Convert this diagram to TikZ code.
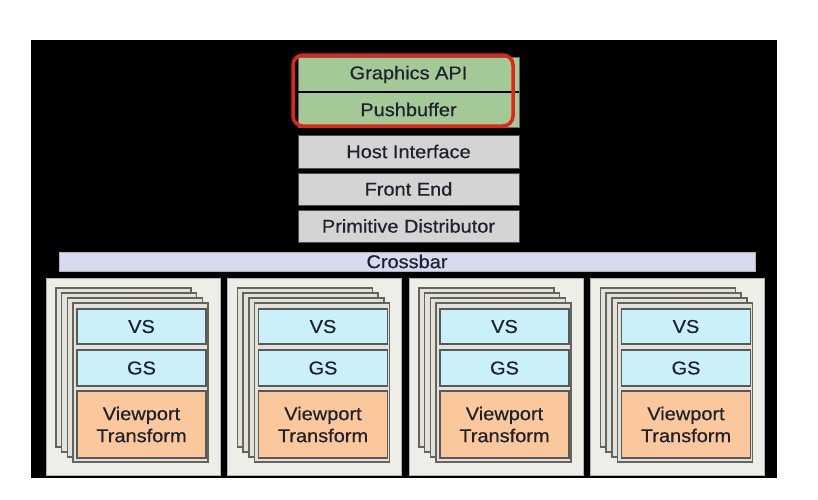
\documentclass[tikz,border=0pt]{standalone}
\usepackage{fontspec}
\setmainfont{Liberation Sans}[FakeStretch=1.08,FakeBold=0.5]
\definecolor{bggreen}{RGB}{163,201,150}
\definecolor{redring}{RGB}{226,36,20}
\definecolor{greybox}{RGB}{212,212,212}
\definecolor{crossfill}{RGB}{214,218,240}
\definecolor{clusterfill}{RGB}{238,238,232}
\definecolor{pagefill}{RGB}{226,226,218}
\definecolor{pagedraw}{RGB}{100,100,92}
\definecolor{cyanfill}{RGB}{202,240,250}
\definecolor{orangefill}{RGB}{250,200,156}
\definecolor{txt}{RGB}{30,34,44}
\begin{document}
\begin{tikzpicture}[x=1pt,y=-1pt,
  every node/.style={inner sep=0pt,outer sep=0pt,font=\fontsize{18.5}{21}\selectfont,text=txt},
  greenbox/.style={rectangle,fill=bggreen,draw=black!60,line width=0.8pt,minimum width=221pt,minimum height=35pt},
  greybox/.style={rectangle,fill=greybox,draw=black!70,line width=1pt,minimum width=221pt},
  clusterbox/.style={rectangle,fill=clusterfill,draw=black!30,line width=1pt,minimum width=174pt,minimum height=197pt},
  pagebox/.style={rectangle,fill=pagefill,draw=pagedraw,line width=1.4pt,minimum width=135pt,minimum height=159pt},
  stagebox/.style={rectangle,draw=black!65,line width=1.2pt,minimum width=129pt,align=center},
  ring/.style={draw=redring,line width=3.5pt,rounded corners=10pt}]
\useasboundingbox (0,0) rectangle (818,499);
\fill[white] (0,0) rectangle (818,499);
\fill[black] (31,40) rectangle (777,478);
\node[greenbox] (api) at (408.5,74.5) {Graphics API};
\node[greenbox] (push) at (408.5,109.5) {Pushbuffer};
\draw[black,line width=1.6pt] (api.south west) -- (api.south east);
\draw[ring] (293,55) rectangle (513,126);
\node[greybox,minimum height=33pt] (host) at (408.5,151.5) {Host Interface};
\node[greybox,minimum height=32pt] (front) at (408.5,189) {Front End};
\node[greybox,minimum height=32pt] (prim) at (408.5,226) {Primitive Distributor};
\node[rectangle,fill=crossfill,draw=black!30,line width=0.8pt,minimum width=696pt,minimum height=19pt] (xbar) at (407,261.5) {Crossbar};
\foreach \i/\ox in {1/0,2/181.5,3/363,4/544.5}{
  \node[clusterbox] (cl\i) at (133+\ox,376.5) {};
  \foreach \k/\d in {a/3,b/2,c/1,d/0}{
    \node[pagebox] (pg\i\k) at (140.5+\ox-5.7*\d,382.5-5*\d) {};
  }
  \node[stagebox,fill=cyanfill,minimum height=35pt] (vs\i) at (141.5+\ox,326.5) {VS};
  \node[stagebox,fill=cyanfill,minimum height=36pt] (gs\i) at (141.5+\ox,368) {GS};
  \node[stagebox,fill=orangefill,minimum height=67pt] (vp\i) at (141.5+\ox,424.5) {Viewport\\[1pt]Transform};
}
\end{tikzpicture}
\end{document}
